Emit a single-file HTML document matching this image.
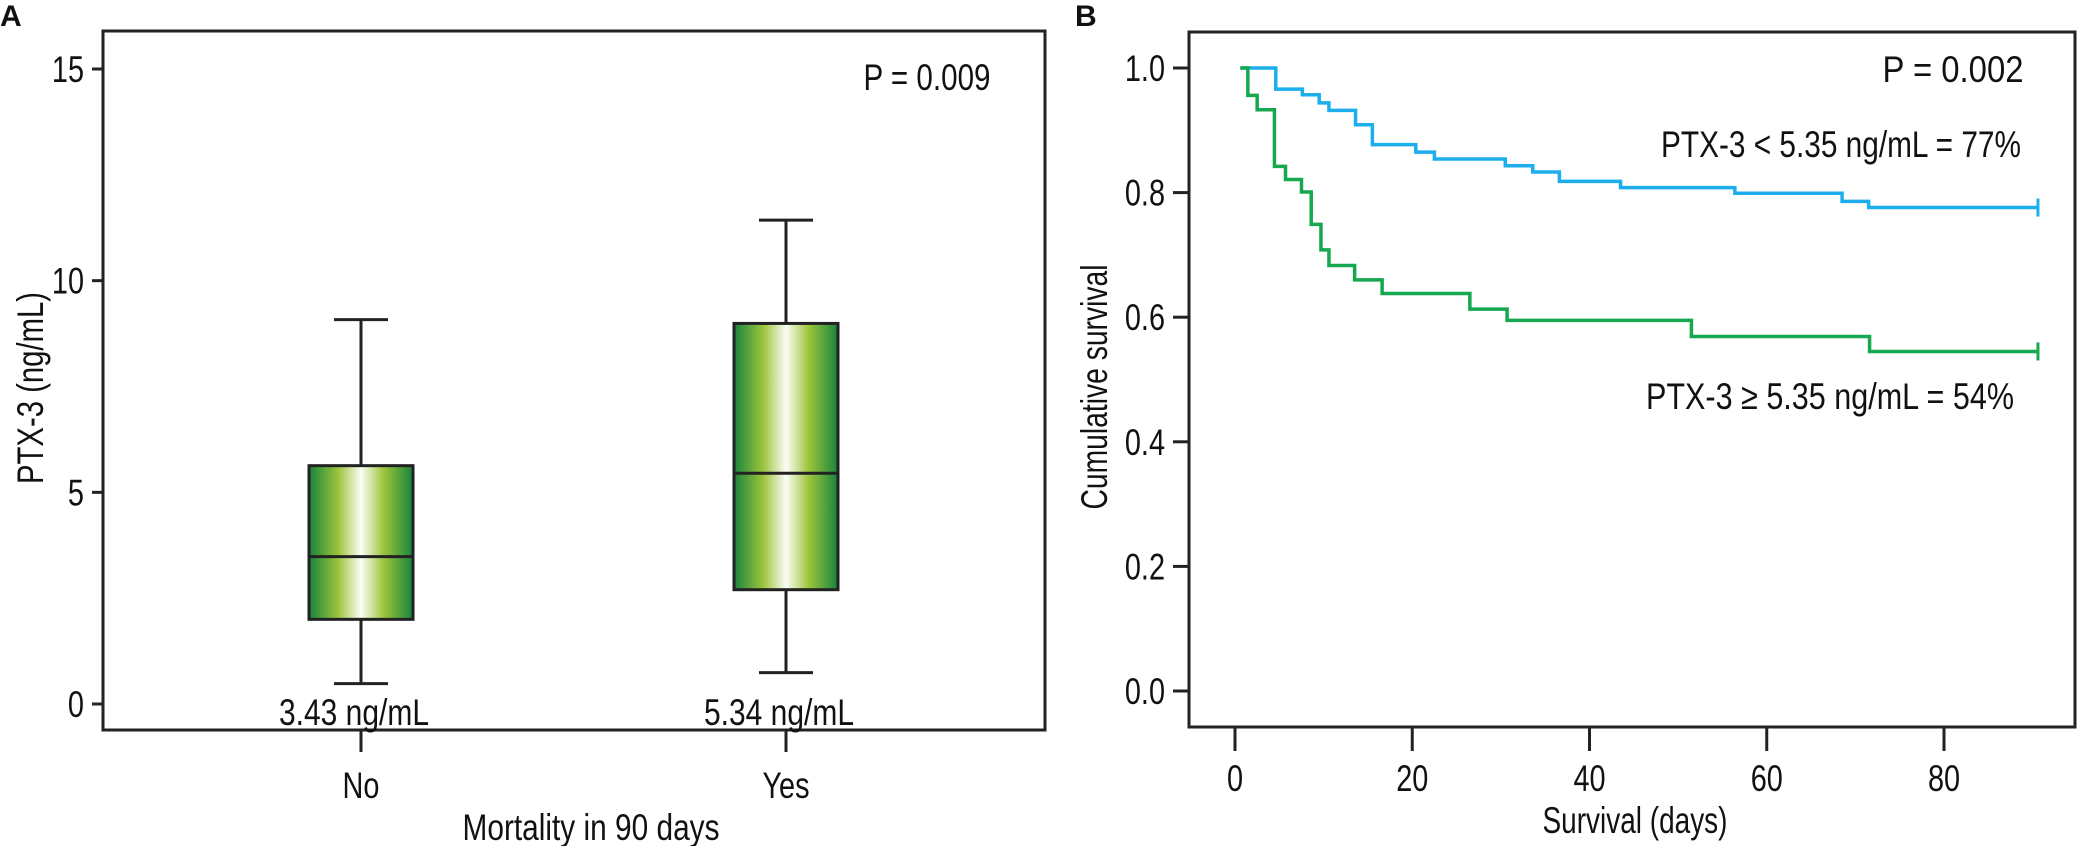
<!DOCTYPE html>
<html><head><meta charset="utf-8"><style>
html,body{margin:0;padding:0;background:#fff;}
svg{display:block;}
text{font-family:"Liberation Sans Narrow","Liberation Sans",sans-serif;fill:#111;}
</style></head>
<body>
<svg id="fig" width="2078" height="846" viewBox="0 0 2078 846" xmlns="http://www.w3.org/2000/svg">
<defs>
<linearGradient id="boxgrad" x1="0" x2="1" y1="0" y2="0">
<stop offset="0" stop-color="#17843e"/>
<stop offset="0.28" stop-color="#9cc43a"/>
<stop offset="0.5" stop-color="#fbfdf6"/>
<stop offset="0.72" stop-color="#9cc43a"/>
<stop offset="1" stop-color="#17843e"/>
</linearGradient>
</defs>
<g id="panelA">
<text x="0" y="26" font-size="30" font-weight="bold">A</text>
<rect x="103" y="31" width="942" height="699" fill="none" stroke="#222" stroke-width="3"/>
<text x="927" y="90" font-size="37" text-anchor="middle" textLength="127" lengthAdjust="spacingAndGlyphs">P = 0.009</text>
<text transform="translate(43,388) rotate(-90)" font-size="37" text-anchor="middle" textLength="192" lengthAdjust="spacingAndGlyphs">PTX-3 (ng/mL)</text>
<text x="591" y="840" font-size="37" text-anchor="middle" textLength="257" lengthAdjust="spacingAndGlyphs">Mortality in 90 days</text>
<g id="a-yticks"></g><g id="a-xticks"></g><g id="a-boxes"></g>
</g>
<g id="panelB">
<text x="1075" y="26" font-size="30" font-weight="bold">B</text>
<rect x="1189" y="32" width="886" height="695" fill="none" stroke="#222" stroke-width="3"/>
<text x="1953" y="82" font-size="37" text-anchor="middle" textLength="141" lengthAdjust="spacingAndGlyphs">P = 0.002</text>
<text x="1841" y="157" font-size="37" text-anchor="middle" textLength="360" lengthAdjust="spacingAndGlyphs">PTX-3 &lt; 5.35 ng/mL = 77%</text>
<text x="1830" y="409" font-size="37" text-anchor="middle" textLength="368" lengthAdjust="spacingAndGlyphs">PTX-3 ≥ 5.35 ng/mL = 54%</text>
<text transform="translate(1107,387) rotate(-90)" font-size="37" text-anchor="middle" textLength="245" lengthAdjust="spacingAndGlyphs">Cumulative survival</text>
<text x="1635" y="833" font-size="37" text-anchor="middle" textLength="185" lengthAdjust="spacingAndGlyphs">Survival (days)</text>
<g id="b-yticks"></g><g id="b-xticks"></g><g id="b-curves"></g>
</g>
</svg>
<script>
// Panel A data
const aTicks = [0, 5, 10, 15];
const aCategories = ["No", "Yes"];
const aWhiskerLow = [0.48, 0.74];
const aQ1 = [2.0, 2.70];
const aMedian = [3.48, 5.45];
const aQ3 = [5.63, 8.99];
const aWhiskerHigh = [9.08, 11.43];
const aMedianLabels = ["3.43 ng/mL", "5.34 ng/mL"];
// Panel B data
const bYTicks = [0.0, 0.2, 0.4, 0.6, 0.8, 1.0];
const bXTicks = [0, 20, 40, 60, 80];
const lowDays = [0.6, 4.6, 7.6, 9.5, 10.6, 13.6, 15.5, 20.4, 22.5, 30.5, 33.6, 36.6, 43.5, 56.4, 68.5, 71.5, 90.6];
const lowSurv = [1.0, 0.966, 0.957, 0.944, 0.932, 0.909, 0.877, 0.865, 0.854, 0.843, 0.833, 0.818, 0.808, 0.799, 0.786, 0.776, 0.776];
const highDays = [0.6, 1.45, 2.5, 4.45, 5.7, 7.5, 8.6, 9.7, 10.6, 13.5, 16.6, 26.5, 30.7, 51.5, 71.6, 90.6];
const highSurv = [1.0, 0.956, 0.933, 0.842, 0.821, 0.801, 0.749, 0.708, 0.683, 0.660, 0.638, 0.613, 0.595, 0.569, 0.545, 0.545];

const NS = "http://www.w3.org/2000/svg";
function mk(tag, attrs, parent, txt) {
  const e = document.createElementNS(NS, tag);
  for (const k in attrs) e.setAttribute(k, attrs[k]);
  if (txt !== undefined) e.textContent = txt;
  parent.appendChild(e);
  return e;
}
const ayScale = v => 704 - v * (704 - 69) / 15;
const axCenters = [361, 786];
const axScale = i => axCenters[i];

const ay = document.getElementById('a-yticks');
aTicks.forEach(t => {
  const y = ayScale(t);
  const l = mk('line', {x1: 92, x2: 103, y1: y, y2: y, stroke: '#222', 'stroke-width': 3}, ay);
  
  
  const tx = mk('text', {x: 84, y: y + 13, 'font-size': 37, 'text-anchor': 'end'}, ay, String(t));
  
  
});
const axg = document.getElementById('a-xticks');
aCategories.forEach((c, i) => {
  const x = axScale(i);
  const l = mk('line', {x1: x, x2: x, y1: 730, y2: 752, stroke: '#222', 'stroke-width': 3}, axg);
  
  
  const tx = mk('text', {x: x, y: 798, 'font-size': 37, 'text-anchor': 'middle'}, axg, c);
  
  
});
const bg = document.getElementById('a-boxes');
aCategories.forEach((c, i) => {
  const x = axScale(i), hw = 52, cw = 27;
  const g = mk('g', {}, bg);
  
  
  mk('line', {x1: x, x2: x, y1: ayScale(aWhiskerHigh[i]), y2: ayScale(aQ3[i]), stroke: '#222', 'stroke-width': 3}, g);
  mk('line', {x1: x, x2: x, y1: ayScale(aQ1[i]), y2: ayScale(aWhiskerLow[i]), stroke: '#222', 'stroke-width': 3}, g);
  mk('line', {x1: x - cw, x2: x + cw, y1: ayScale(aWhiskerHigh[i]), y2: ayScale(aWhiskerHigh[i]), stroke: '#222', 'stroke-width': 3}, g);
  mk('line', {x1: x - cw, x2: x + cw, y1: ayScale(aWhiskerLow[i]), y2: ayScale(aWhiskerLow[i]), stroke: '#222', 'stroke-width': 3}, g);
  mk('rect', {x: x - hw, y: ayScale(aQ3[i]), width: 2 * hw, height: ayScale(aQ1[i]) - ayScale(aQ3[i]), fill: 'url(#boxgrad)', stroke: '#222', 'stroke-width': 3}, g);
  mk('line', {x1: x - hw, x2: x + hw, y1: ayScale(aMedian[i]), y2: ayScale(aMedian[i]), stroke: '#222', 'stroke-width': 3}, g);
  const tx = mk('text', {x: x - 7, y: 725, 'font-size': 37, 'text-anchor': 'middle', textLength: 150, lengthAdjust: 'spacingAndGlyphs'}, g, aMedianLabels[i]);
  
  
});
const byScale = v => 691 - v * (691 - 68);
const bxScale = d => 1235 + d * (1944 - 1235) / 80;
const byg = document.getElementById('b-yticks');
bYTicks.forEach(t => {
  const y = byScale(t);
  const l = mk('line', {x1: 1173, x2: 1189, y1: y, y2: y, stroke: '#222', 'stroke-width': 3}, byg);
  
  
  const tx = mk('text', {x: 1165, y: y + 13, 'font-size': 37, 'text-anchor': 'end'}, byg, t.toFixed(1));
  
  
});
const bxg = document.getElementById('b-xticks');
bXTicks.forEach(t => {
  const x = bxScale(t);
  const l = mk('line', {x1: x, x2: x, y1: 727, y2: 751, stroke: '#222', 'stroke-width': 3}, bxg);
  
  
  const tx = mk('text', {x: x, y: 791, 'font-size': 37, 'text-anchor': 'middle'}, bxg, String(t));
  
  
});
const cg = document.getElementById('b-curves');
function stepPath(days, surv) {
  let d = 'M' + bxScale(days[0]) + ',' + byScale(surv[0]);
  for (let i = 1; i < days.length; i++) {
    d += ' H' + bxScale(days[i]) + ' V' + byScale(surv[i]);
  }
  return d;
}
[[lowDays, lowSurv, '#1caeed', 'curve-low-ptx3'], [highDays, highSurv, '#15a84f', 'curve-high-ptx3']].forEach(s => {
  const p = mk('path', {d: stepPath(s[0], s[1]), fill: 'none', stroke: s[2], 'stroke-width': 3.5}, cg);
  
  
  const n = s[0].length - 1;
  const cx = bxScale(s[0][n]), cy = byScale(s[1][n]);
  const m = mk('line', {x1: cx, x2: cx, y1: cy - 9, y2: cy + 9, stroke: s[2], 'stroke-width': 3}, cg);
  
  
});
// condense tick labels to mimic the narrow font
document.querySelectorAll('#a-yticks text, #a-xticks text, #b-yticks text, #b-xticks text').forEach(t => {
  const w = t.getComputedTextLength();
  t.setAttribute('textLength', (w * 0.78).toFixed(1));
  t.setAttribute('lengthAdjust', 'spacingAndGlyphs');
});
</script>
</body></html>
